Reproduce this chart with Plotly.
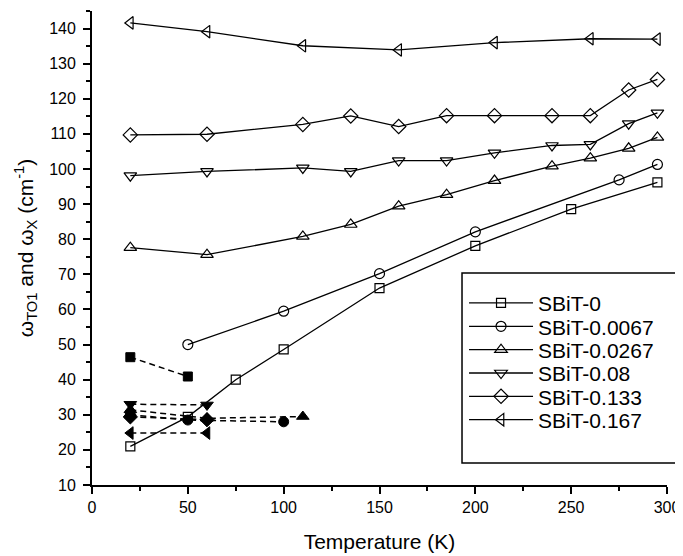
import plotly.graph_objects as go

# open symbols, solid lines (omega_TO1)
t_0 = [20, 50, 75, 100, 150, 200, 250, 295]
w_0 = [21, 29.4, 40, 48.6, 66.1, 78.1, 88.6, 96.2]
t_0067 = [50, 100, 150, 200, 275, 295]
w_0067 = [50, 59.5, 70.2, 82.1, 96.9, 101.3]
t_long = [20, 60, 110, 135, 160, 185, 210, 240, 260, 280, 295]
w_0267 = [77.6, 75.6, 80.8, 84.2, 89.4, 92.7, 96.7, 100.8, 103.1, 105.9, 109.0]
w_008 = [98.1, 99.3, 100.3, 99.3, 102.4, 102.4, 104.6, 106.7, 107.0, 112.9, 116.0]
w_0133 = [109.7, 109.9, 112.7, 115.1, 112.1, 115.2, 115.2, 115.2, 115.2, 122.5, 125.5]
t_0167 = [20, 60, 110, 160, 210, 260, 295]
w_0167 = [141.6, 139.1, 135.1, 133.9, 136.0, 137.1, 137.0]

# filled symbols, dashed lines (omega_x)
tx_0, wx_0 = [20, 50], [46.4, 40.9]
tx_0067, wx_0067 = [20, 50, 100], [30.0, 28.5, 28.0]
tx_0267, wx_0267 = [20, 60, 110], [31.4, 29.0, 29.5]
tx_008, wx_008 = [20, 60], [33.0, 32.8]
tx_0133, wx_0133 = [20, 60], [29.4, 28.6]
tx_0167, wx_0167 = [20, 60], [24.8, 24.8]

names = ['SBiT-0', 'SBiT-0.0067', 'SBiT-0.0267', 'SBiT-0.08', 'SBiT-0.133', 'SBiT-0.167']
symbols = ['square', 'circle', 'triangle-up', 'triangle-down', 'diamond', 'triangle-left']
sizes = [9, 10, 11, 11, 11, 11]

open_series = [(t_0, w_0), (t_0067, w_0067), (t_long, w_0267), (t_long, w_008), (t_long, w_0133), (t_0167, w_0167)]
filled_series = [(tx_0, wx_0), (tx_0067, wx_0067), (tx_0267, wx_0267), (tx_008, wx_008), (tx_0133, wx_0133), (tx_0167, wx_0167)]

fig = go.Figure()
for (t, w), sym, sz in zip(filled_series, symbols, sizes):
    fig.add_trace(go.Scatter(x=t, y=w, mode='lines+markers', showlegend=False,
                             line=dict(color='black', width=1.5, dash='6px,4px'),
                             marker=dict(symbol=sym, size=sz, color='black', line=dict(color='black', width=1))))

# one legend per entry so the rows can sit as tight as in the original
legend_layout = {}
for i, ((t, w), name, sym, sz) in enumerate(zip(open_series, names, symbols, sizes)):
    key = 'legend' if i == 0 else f'legend{i + 1}'
    fig.add_trace(go.Scatter(x=t, y=w, mode='lines+markers', name=name, legend=key,
                             line=dict(color='black', width=1.3),
                             marker=dict(symbol=sym + '-open', size=sz, color='black',
                                         line=dict(color='black', width=1.2))))
    row_px = 303.3 + i * 23.35
    legend_layout[key] = dict(x=0.647, y=(485 - row_px) / 474, xanchor='left', yanchor='middle',
                              bgcolor='rgba(0,0,0,0)', borderwidth=0, font=dict(size=21),
                              itemwidth=64)

axis_common = dict(showline=True, linecolor='black', linewidth=1.8, showgrid=False, zeroline=False,
                   ticks='outside', ticklen=7, tickwidth=1.5, tickcolor='black',
                   tickfont=dict(size=16, color='black'), mirror=False)

fig.update_xaxes(range=[0, 300], dtick=50, tick0=0,
                 minor=dict(ticks='outside', ticklen=4, tickwidth=1.5, tickcolor='black', dtick=25),
                 title=dict(text='Temperature (K)', font=dict(size=21, color='black'), standoff=19),
                 **axis_common)
fig.update_yaxes(range=[10, 145], dtick=10, tick0=10, ticklabelstandoff=4,
                 minor=dict(ticks='outside', ticklen=4, tickwidth=1.5, tickcolor='black', dtick=5),
                 title=dict(text='ω<sub>TO1</sub> and ω<sub>X</sub> (cm<sup>-1</sup>)',
                            font=dict(size=21, color='black'), standoff=10),
                 **axis_common)

# legend frame
fig.add_shape(type='rect', xref='paper', yref='paper', x0=0.6435, x1=1.0174, y0=0.0464, y1=0.4473,
              line=dict(color='black', width=1.5), fillcolor='white', layer='below')

# page body has an 8px margin, so the figure is shifted left/up by 8px here
fig.update_layout(
    width=683, height=556,
    margin=dict(l=84, r=24, t=3, b=79, autoexpand=False),
    plot_bgcolor='white', paper_bgcolor='white',
    font=dict(family='Liberation Sans, Arial, sans-serif', color='black'),
    **legend_layout,
)

fig.write_html("out.html")
